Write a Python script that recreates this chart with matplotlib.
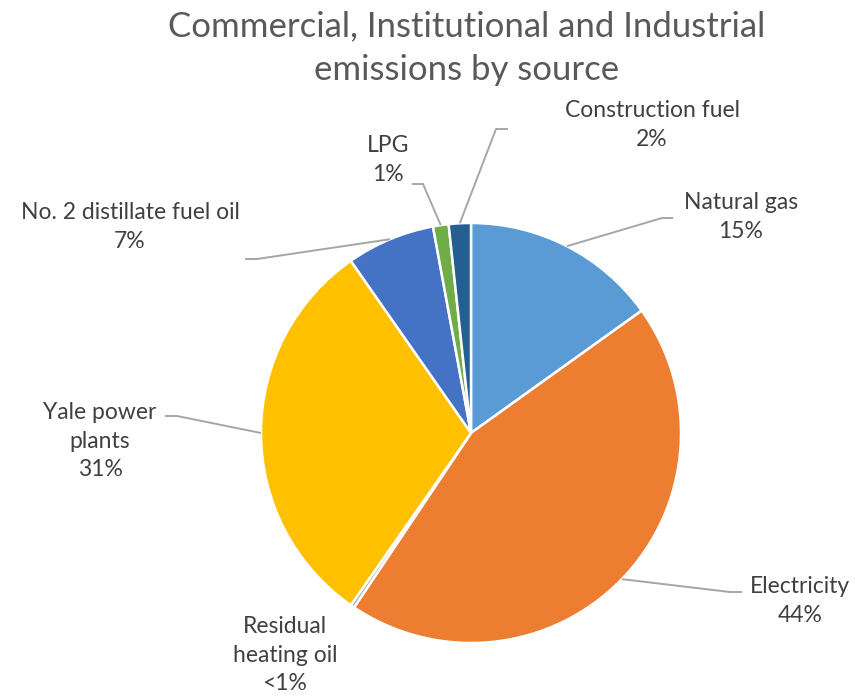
import matplotlib.pyplot as plt
import numpy as np

# emissions share by source (percent), clockwise from 12 o'clock
sources = ["Natural gas", "Electricity", "Residual\nheating oil", "Yale power\nplants",
           "No. 2 distillate fuel oil", "LPG", "Construction fuel"]
shares = [15.1, 44.3, 0.3, 30.6, 6.8, 1.2, 1.7]
colors = ["#5B9BD5", "#ED7D31", "#A5A5A5", "#FFC000", "#4472C4", "#70AD47", "#255E91"]

plt.rcParams['font.family'] = ['Lato', 'DejaVu Sans']

W, H = 855, 698
CX, CY, R = 471, 433, 210


def px(x, y):
    # pixel position -> data units (pie radius = 1)
    return (x - CX) / R, (CY - y) / R


def pct(v):
    return "<1%" if v < 1 else "%d%%" % round(v)


fig = plt.figure(figsize=(W / 100, H / 100), dpi=100)
ax = fig.add_axes([0, 0, 1, 1])
ax.axis('off')

wedges, _ = ax.pie(shares, colors=colors, startangle=90, counterclock=False, radius=1,
                   wedgeprops=dict(edgecolor='white', linewidth=1.8))
ax.set_xlim(px(0, 0)[0], px(W, 0)[0])
ax.set_ylim(px(0, H)[1], px(0, 0)[1])
ax.set_aspect('auto')

# label centre and leader elbow/end points
label_pos = {
    "Natural gas": (741, 217),
    "Electricity": (800, 601),
    "Residual\nheating oil": (285, 655),
    "Yale power\nplants": (100, 441),
    "No. 2 distillate fuel oil": (130, 227),
    "LPG": (388, 160),
    "Construction fuel": (652, 125),
}
leaders = {
    "Natural gas": [(662, 218), (673, 218)],
    "Electricity": [(730, 592), (742, 592)],
    "Yale power\nplants": [(177, 416), (165, 416)],
    "No. 2 distillate fuel oil": [(257, 259), (245, 259)],
    "LPG": [(423, 184), (412, 184)],
    "Construction fuel": [(496, 129), (508, 129)],
}

for w, name, v in zip(wedges, sources, shares):
    lx, ly = px(*label_pos[name])
    ax.text(lx, ly, name + "\n" + pct(v), ha='center', va='center', fontsize=16.5,
            color='#404040', linespacing=1.45)
    if name in leaders:
        mid = np.deg2rad((w.theta1 + w.theta2) / 2)
        pts = [(np.cos(mid), np.sin(mid))] + [px(*p) for p in leaders[name]]
        xs, ys = zip(*pts)
        ax.plot(xs, ys, color='#A6A6A6', lw=1.4, solid_capstyle='butt')

tx, ty = px(467, 48)
ax.text(tx, ty, "Commercial, Institutional and Industrial\nemissions by source",
        ha='center', va='center', fontsize=25, color='#595959', linespacing=1.45)

fig.savefig("out.png", dpi=100)
